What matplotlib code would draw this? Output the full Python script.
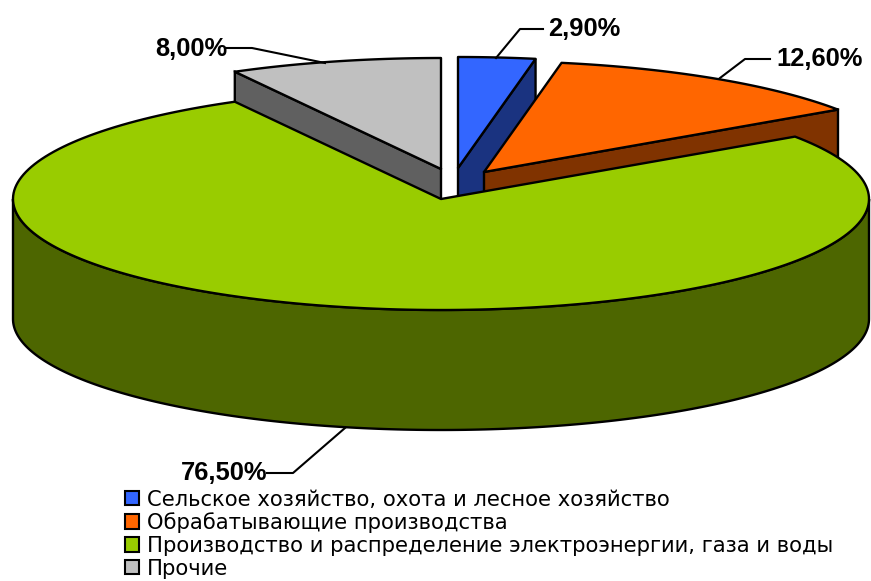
import numpy as np
import matplotlib
matplotlib.use('Agg')
import matplotlib.pyplot as plt
from matplotlib.patches import Polygon, Patch

plt.rcParams['font.family'] = ['Liberation Sans', 'DejaVu Sans']

categories = ['Сельское хозяйство, охота и лесное хозяйство',
              'Обрабатывающие производства',
              'Производство и распределение электроэнергии, газа и воды',
              'Прочие']
shares = [2.9, 12.6, 76.5, 8.0]
value_labels = ['2,90%', '12,60%', '76,50%', '8,00%']

top_colors = ['#3366FF', '#FF6600', '#99CC00', '#C0C0C0']
side_colors = ['#1A3380', '#803300', '#4D6600', '#606060']

# pie geometry in pixels, y goes down
cx, cy = 441, 199
rx, ry = 428, 111
depth = 120
offsets = [(17, -31), (43, -27), (0, 0), (0, -30)]
lw = 1.7

fig = plt.figure(figsize=(8.71, 5.81), dpi=100)
ax = fig.add_axes([0, 0, 1, 1])
ax.set_xlim(0, 871)
ax.set_ylim(581, 0)
ax.axis('off')


def arc(t0, t1, dx=0, dy=0):
    # angles clockwise from 12 o'clock
    t = np.radians(np.linspace(t0, t1, 200))
    return np.column_stack([cx + dx + rx * np.sin(t), cy + dy - ry * np.cos(t)])


edges = np.concatenate([[0], np.cumsum(shares)]) * 3.6


def radial_wall(i, t, z):
    dx, dy = offsets[i]
    apex = np.array([cx + dx, cy + dy])
    rim = arc(t, t, dx, dy)[0]
    pts = [apex, rim, rim + [0, depth], apex + [0, depth]]
    ax.add_patch(Polygon(pts, fc=side_colors[i], ec='black', lw=lw, zorder=z))


def top_face(i, z):
    dx, dy = offsets[i]
    pts = np.vstack([[cx + dx, cy + dy], arc(edges[i], edges[i + 1], dx, dy)])
    ax.add_patch(Polygon(pts, fc=top_colors[i], ec='black', lw=lw, joinstyle='round', zorder=z))


# back slices first, green goes over their walls
radial_wall(3, edges[3], 1)
top_face(3, 2)
radial_wall(0, edges[1], 3)
top_face(0, 4)
radial_wall(1, edges[2], 5)
top_face(1, 6)

front = arc(90, 270)
wall = np.vstack([front, front[::-1] + [0, depth]])
ax.add_patch(Polygon(wall, fc=side_colors[2], ec='black', lw=lw, zorder=7))
top_face(2, 8)

# leader lines and value labels
leaders = [([496, 520, 543], [58, 29, 29]),
           ([720, 745, 770], [78, 59, 59]),
           ([345, 293, 267], [428, 473, 473]),
           ([325, 252, 226], [63, 48, 48])]
label_pos = [(548, 29, 'left'), (776, 59, 'left'), (267, 473, 'right'), (227, 49, 'right')]
for i in range(4):
    ax.plot(leaders[i][0], leaders[i][1], color='black', lw=1.5, zorder=9)
    x, y, ha = label_pos[i]
    ax.text(x, y, value_labels[i], fontsize=18.4, fontweight='bold', ha=ha, va='center', zorder=10)

# reference legend text is wide set, DejaVu gets the same run length
handles = [Patch(fc=c, ec='black', lw=1.5) for c in top_colors]
ax.legend(handles, categories, loc='upper left', bbox_to_anchor=(125 / 871, 1 - 489.5 / 581),
          frameon=False, prop={'family': 'DejaVu Sans', 'size': 15.2},
          handlelength=0.68, handleheight=0.68, handletextpad=0.36,
          labelspacing=0.13, borderpad=0, borderaxespad=0)

plt.savefig('out.png', dpi=100)
plt.close()
